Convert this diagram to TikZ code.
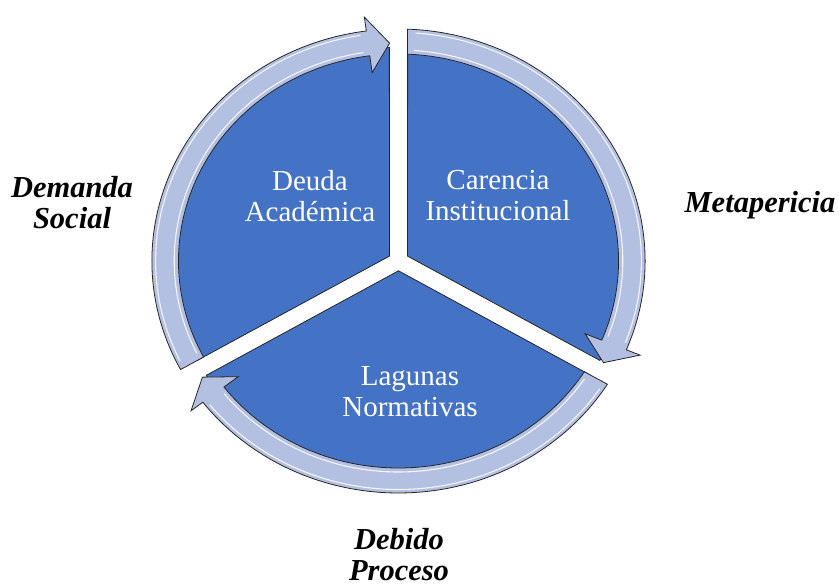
\documentclass[tikz,border=0pt]{standalone}
\usepackage{fontspec}
\setmainfont{Liberation Serif}
\begin{document}
\begin{tikzpicture}[x=1pt,y=1pt,
  sector/.style={fill=secblue, draw=black!85, line width=0.8pt, line join=round},
  ringarrow/.style={fill=ringblue, draw=black!85, line width=0.8pt, line join=miter},
  glint/.style={draw=white, line width=1.1pt, opacity=0.85},
  intext/.style={text=white, align=center, font=\fontsize{29}{31}\selectfont},
  outtext/.style={text=black, align=center, font=\fontsize{30.5}{31}\selectfont\bfseries\itshape}]
\definecolor{secblue}{RGB}{68,114,196}
\definecolor{ringblue}{RGB}{180,192,225}
\path[use as bounding box] (0,0) rectangle (839,586);
\begin{scope}[shift={(398.5,325)}, xscale=1.063]
  % sectors
  \foreach \p in {150,30,270}{
    \path[sector] (\p:9.8) -- ({\p-60+2.3}:214)
      arc[start angle={\p-60+2.3}, end angle={\p+60-2.3}, radius=214] -- cycle;
  }
  % ring arrows
  \foreach \a/\b in {210/90, 90/-30, -30/-150}{
    \path[ringarrow] ({\a-2.1}:232)
      arc[start angle={\a-2.1}, end angle={\b+7.5}, radius=232]
      -- ({\b+7.5}:246) -- ({\b+2.2}:218) -- ({\b+7.5}:190) -- ({\b+7.5}:207)
      arc[start angle={\b+7.5}, end angle={\a-2.35}, radius=207] -- cycle;
    \draw[glint] ({\a-4}:211) arc[start angle={\a-4}, end angle={\b+9}, radius=211];
    \draw[glint] ({\a-4}:228.5) arc[start angle={\a-4}, end angle={\b+9}, radius=228.5];
  }
\end{scope}
\node[intext] (deuda) at (310,390) {Deuda\\Académica};
\node[intext] (carencia) at (498,390) {Carencia\\Institucional};
\node[intext] (lagunas) at (410,194) {Lagunas\\Normativas};
\node[outtext] (demanda) at (72,383) {Demanda\\Social};
\node[outtext] (meta) at (760,381) {Metapericia};
\node[outtext] (debido) at (399,31) {Debido\\Proceso};
\end{tikzpicture}
\end{document}
